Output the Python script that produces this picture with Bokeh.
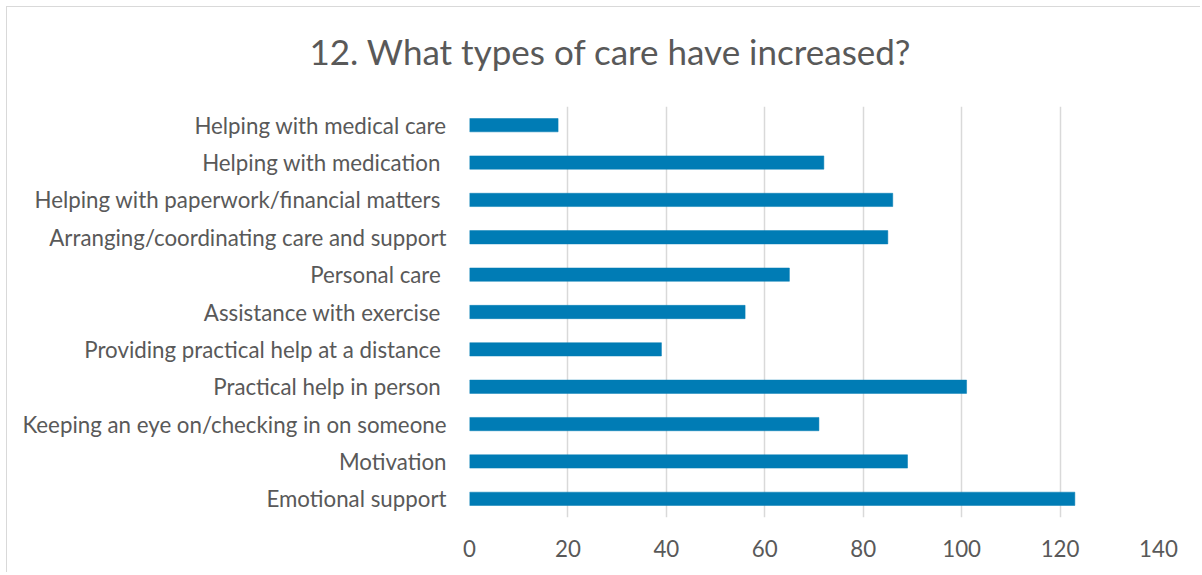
from bokeh.plotting import figure
from bokeh.models import FactorRange, Range1d, FixedTicker, Title
from bokeh.embed import file_html
from bokeh.resources import INLINE

title_text = "12. What types of care have increased?"
categories = [
    "Helping with medical care",
    "Helping with medication ",
    "Helping with paperwork/financial matters ",
    "Arranging/coordinating care and support",
    "Personal care ",
    "Assistance with exercise ",
    "Providing practical help at a distance ",
    "Practical help in person ",
    "Keeping an eye on/checking in on someone",
    "Motivation",
    "Emotional support",
]
values = [18, 72, 86, 85, 65, 56, 39, 101, 71, 89, 123]
x_ticks = [0, 20, 40, 60, 80, 100, 120, 140]

TEXT = "#595959"
FONT = "Lato"

factors = categories[::-1]
vals = values[::-1]

p = figure(
    width=1194, height=566,
    y_range=FactorRange(factors=factors, range_padding=0),
    x_range=Range1d(0, 140),
    output_backend="svg", toolbar_location=None,
    min_border_left=462, min_border_right=43,
    min_border_top=99, min_border_bottom=56,
)

p.hbar(y=factors, right=vals, left=0, height=0.356,
       fill_color="#007CB5", line_color="#007CB5", line_width=0.5)

# spacer between the title and the plot frame
p.add_layout(Title(text=" ", text_font_size="10px", standoff=22), "above")

p.title.text = title_text
p.title.align = "left"
p.title.offset = -160
p.title.standoff = 0
p.title.text_font = FONT
p.title.text_font_size = "35px"
p.title.text_font_style = "normal"
p.title.text_color = TEXT

p.xaxis.ticker = FixedTicker(ticks=x_ticks)
for ax in (p.xaxis, p.yaxis):
    ax.axis_line_color = None
    ax.major_tick_line_color = None
    ax.minor_tick_line_color = None
    ax.major_label_text_font = FONT
    ax.major_label_text_font_size = "22.3px"
    ax.major_label_text_color = TEXT
p.xaxis.major_label_standoff = 16
p.yaxis.major_label_standoff = 17

p.ygrid.grid_line_color = None
p.xgrid.grid_line_color = "#D9D9D9"
p.xgrid.grid_line_width = 1.5
p.outline_line_color = None
p.background_fill_color = "white"
p.border_fill_color = "white"
p.styles = {
    "margin-left": "6px", "margin-top": "6px",
    "border-left": "1px solid #D9D9D9", "border-top": "1px solid #D9D9D9",
}

open("out.html", "w").write(file_html(p, INLINE))
